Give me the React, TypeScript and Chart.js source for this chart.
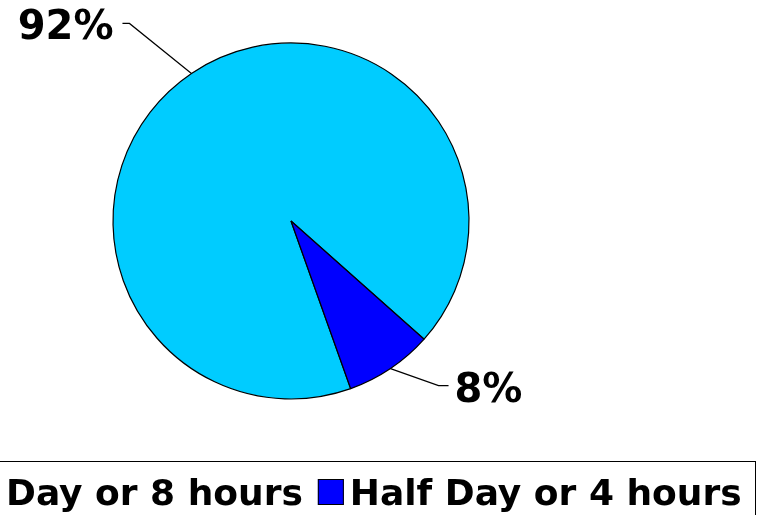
import React, { useEffect, useRef } from "react";
import { Chart, registerables } from "chart.js";

Chart.register(...registerables);

const categories = ["Day or 8 hours", "Half Day or 4 hours"];
const shares = [92, 8];
const sliceColors = ["#00CCFF", "#0000FF"];

const FONT_FAMILY = '"DejaVu Sans", Verdana, sans-serif';

// Leader line geometry for each slice label (elbow offset from the arc edge, then a short horizontal run)
const leaderOffsets = [
  { dx: -62, dy: -50, run: -7 },
  { dx: 48, dy: 17, run: 10 },
];

const calloutPlugin = {
  id: "callouts",
  afterDatasetsDraw(chart: any) {
    const ctx = chart.ctx as CanvasRenderingContext2D;
    const meta = chart.getDatasetMeta(0);
    const values = chart.data.datasets[0].data as number[];
    ctx.save();
    ctx.strokeStyle = "#000";
    ctx.lineWidth = 1.2;
    ctx.fillStyle = "#000";
    ctx.font = `bold 40px ${FONT_FAMILY}`;
    ctx.textBaseline = "alphabetic";
    meta.data.forEach((arc: any, i: number) => {
      const p = arc.getProps(["x", "y", "startAngle", "endAngle", "outerRadius"], true);
      const mid = (p.startAngle + p.endAngle) / 2;
      const sx = p.x + Math.cos(mid) * p.outerRadius;
      const sy = p.y + Math.sin(mid) * p.outerRadius;
      const o = leaderOffsets[i];
      const ex = sx + o.dx;
      const ey = sy + o.dy;
      const hx = ex + o.run;
      ctx.beginPath();
      ctx.moveTo(sx, sy);
      ctx.lineTo(ex, ey);
      ctx.lineTo(hx, ey);
      ctx.stroke();
      const label = `${values[i]}%`;
      if (o.run < 0) {
        ctx.textAlign = "right";
        ctx.fillText(label, hx - 9, ey + 16);
      } else {
        ctx.textAlign = "left";
        ctx.fillText(label, hx + 6, ey + 16);
      }
    });
    ctx.restore();
  },
};

const legendPlugin = {
  id: "boxLegend",
  afterDraw(chart: any) {
    const ctx = chart.ctx as CanvasRenderingContext2D;
    const labels = chart.data.labels as string[];
    const colors = chart.data.datasets[0].backgroundColor as string[];
    ctx.save();
    ctx.strokeStyle = "#000";
    ctx.lineWidth = 1;
    ctx.strokeRect(-5.5, 461.5, 761, 100);
    ctx.font = `bold 36px ${FONT_FAMILY}`;
    ctx.textBaseline = "alphabetic";
    ctx.textAlign = "left";
    let x = -26;
    const top = 479;
    const box = 26;
    labels.forEach((lab, i) => {
      ctx.fillStyle = colors[i];
      ctx.fillRect(x, top, box, box);
      ctx.strokeStyle = "#000";
      ctx.strokeRect(x + 0.5, top + 0.5, box - 1, box - 1);
      ctx.fillStyle = "#000";
      ctx.fillText(lab, x + 32, top + box);
      x += 32 + ctx.measureText(lab).width + 15;
    });
    ctx.restore();
  },
};

export default function App() {
  const canvasRef = useRef<HTMLCanvasElement | null>(null);

  useEffect(() => {
    if (!canvasRef.current) return;
    const chart = new Chart(canvasRef.current, {
      type: "pie",
      data: {
        labels: categories,
        datasets: [
          {
            data: shares,
            backgroundColor: sliceColors,
            borderColor: "#000",
            borderWidth: 1.2,
          },
        ],
      },
      options: {
        responsive: false,
        animation: false,
        devicePixelRatio: 1,
        rotation: 160.4,
        radius: 178,
        layout: { padding: { left: 0, top: 0, right: 181, bottom: 73 } },
        plugins: {
          legend: { display: false },
          tooltip: { enabled: false },
        },
      },
      plugins: [calloutPlugin, legendPlugin],
    });
    return () => chart.destroy();
  }, []);

  return (
    <div style={{ position: "fixed", left: 0, top: 0, width: 763, height: 515, background: "#fff" }}>
      <canvas ref={canvasRef} width={763} height={515} />
    </div>
  );
}
